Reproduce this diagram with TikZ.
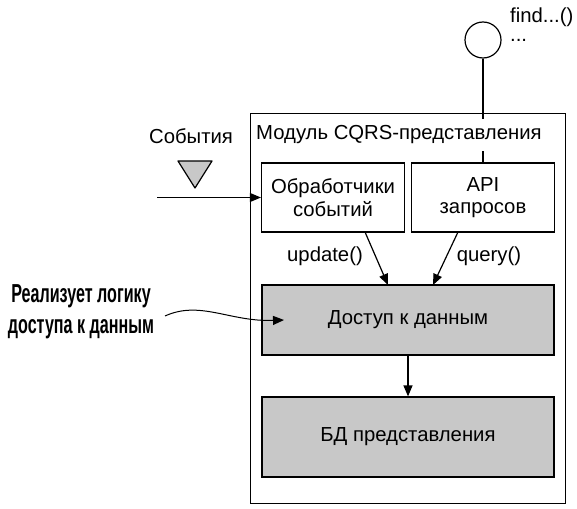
\documentclass[tikz,border=0pt]{standalone}
\usepackage{fontspec}
\setmainfont{Liberation Sans}
\newfontfamily\condfont[FakeStretch=0.62]{Liberation Sans Bold}
\usetikzlibrary{arrows.meta,calc}
\definecolor{boxgrey}{HTML}{C8C8C8}
\tikzset{
  lbl/.style={font=\fontsize{20.3}{23}\selectfont, inner sep=0pt},
  plainbox/.style={draw, line width=1.2pt, align=center, font=\fontsize{20.3}{22.5}\selectfont, inner sep=0pt},
  greybox/.style={plainbox, fill=boxgrey},
  arr/.style={line width=1.2pt, -{Triangle[length=11pt,width=9pt]}},
  note/.style={font=\condfont\fontsize{26}{31}\selectfont, align=center, inner sep=0pt},
}
\begin{document}
\begin{tikzpicture}[x=1pt,y=-1pt]
\useasboundingbox[fill=white] (0,0) rectangle (577,508);
% outer module box
\node[draw, line width=1.2pt, minimum width=315pt, minimum height=390pt, anchor=north west, inner sep=0pt] (module) at (250,113) {};
% interface circle
\node[draw, circle, line width=1.2pt, minimum size=36pt, inner sep=0pt] (iface) at (483,40) {};
\node[lbl, anchor=west] (find) at (510,17) {find...()};
\node[lbl, anchor=west] (dots) at (510,40) {...};
% inner boxes
\node[plainbox, minimum width=143pt, minimum height=69pt] (handlers) at (333,197.5) {Обработчики\\событий};
\node[plainbox, minimum width=143pt, minimum height=69pt] (api) at (483,197.5) {API\\запросов};
\node[greybox, minimum width=292pt, minimum height=70pt] (access) at (408,320) {Доступ к данным};
\node[greybox, minimum width=292pt, minimum height=80pt] (db) at (408,437) {БД представления};
% line from interface to API (title covers it)
\draw[line width=1.2pt] (iface) -- (api);
\node[lbl, anchor=west, fill=white, minimum height=32pt] (title) at (256,135) {Модуль CQRS-представления};
% events
\node[lbl] (events) at (191,136) {События};
\draw[line width=1.2pt, fill=boxgrey, line join=round] (178,161) -- (212,161) -- (195,188) -- cycle;
\coordinate (evstart) at (157,197.5);
\draw[arr] (evstart) -- (handlers.west);
% calls
\coordinate (hb) at (365,232);
\coordinate (ab) at (458,232);
\draw[arr] (hb) -- (388,285);
\draw[arr] (ab) -- (433,285);
\node[lbl] (upd) at (325,256) {update()};
\node[lbl] (qry) at (489,256) {query()};
\draw[arr] (access.south) -- (db.north);
% annotation
\node[note] (note) at (81,312) {Реализует логику\\доступа к данным};
\coordinate (nstart) at (165,316);
\coordinate (nend) at (284,320);
\draw[line width=1pt, -{Triangle[length=11pt,width=9pt]}] (nstart) .. controls (200,300) and (230,322) .. (nend);
\end{tikzpicture}
\end{document}
